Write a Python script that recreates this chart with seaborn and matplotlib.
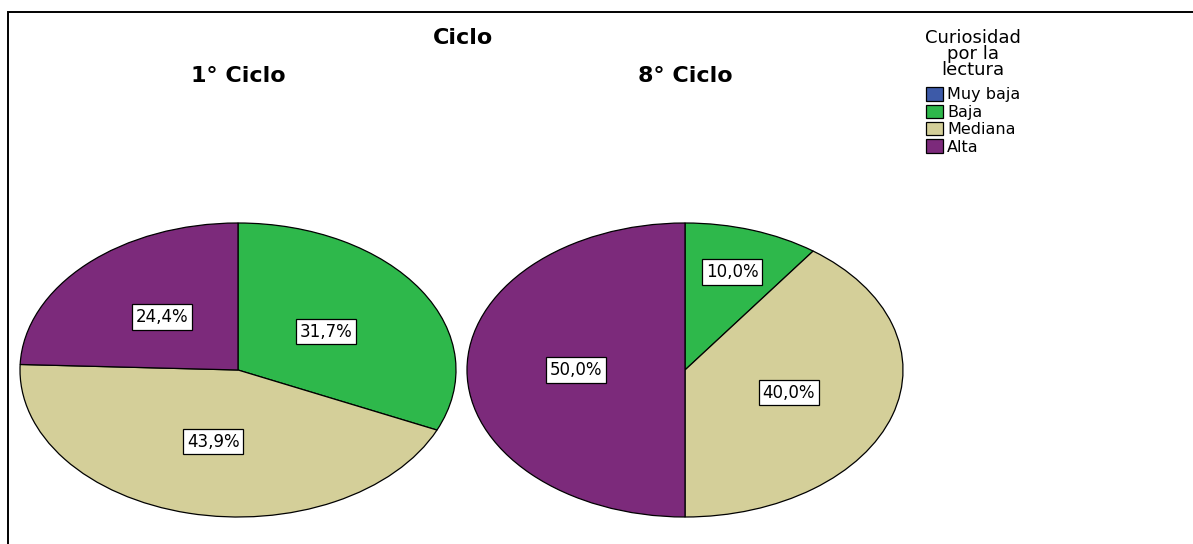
import matplotlib

matplotlib.use("Agg")
import matplotlib.pyplot as plt
from matplotlib.patches import Patch, Rectangle
import numpy as np
import seaborn as sns

# data
categories = ["Muy baja", "Baja", "Mediana", "Alta"]
colors = ["#3D5AA8", "#2EB84B", "#D4CF99", "#7C2A7B"]
ciclo_1 = [0.0, 31.7, 43.9, 24.4]
ciclo_8 = [0.0, 10.0, 40.0, 50.0]
panel_titles = ["1° Ciclo", "8° Ciclo"]
# distance of each percentage box from the centre (fraction of radius)
label_dist_1 = [0.5, 0.48, 0.5, 0.5]
label_dist_8 = [0.5, 0.7, 0.5, 0.5]

W, H = 1193, 544


def fmt(v):
    return f"{v:.1f}".replace(".", ",") + "%"


def draw_pie(ax, values, dists):
    vals = [v for v in values if v > 0]
    cols = [c for v, c in zip(values, colors) if v > 0]
    ds = [d for v, d in zip(values, dists) if v > 0]
    wedges, _ = ax.pie(
        vals,
        colors=cols,
        startangle=90,
        counterclock=False,
        wedgeprops=dict(edgecolor="black", linewidth=0.9),
        normalize=True,
    )
    for w, v, d in zip(wedges, vals, ds):
        ang = np.deg2rad((w.theta1 + w.theta2) / 2)
        ax.text(
            d * np.cos(ang),
            d * np.sin(ang),
            fmt(v),
            ha="center",
            va="center",
            fontsize=12,
            color="black",
            bbox=dict(boxstyle="square,pad=0.22", fc="white", ec="black", lw=0.9),
        )
    ax.set_aspect("auto")
    ax.set_xlim(-1, 1)
    ax.set_ylim(-1, 1)
    ax.axis("off")


def main():
    sns.set_theme(style="white")
    plt.rcParams["font.family"] = ["DejaVu Sans"]
    plt.rcParams["text.color"] = "black"

    fig = plt.figure(figsize=(W / 100, H / 100), dpi=100)

    # pie axes placed on the ellipse bounding boxes (pixels)
    ax1 = fig.add_axes([20 / W, (H - 517) / H, 436 / W, 294 / H])
    ax2 = fig.add_axes([467 / W, (H - 517) / H, 436 / W, 294 / H])
    draw_pie(ax1, ciclo_1, label_dist_1)
    draw_pie(ax2, ciclo_8, label_dist_8)

    fig.text(463 / W, 1 - 38 / H, "Ciclo", ha="center", va="center",
             fontsize=16, fontweight="bold")
    for cx, t in zip([238, 685], panel_titles):
        fig.text(cx / W, 1 - 76 / H, t, ha="center", va="center",
                 fontsize=16, fontweight="bold")

    handles = [Patch(facecolor=c, edgecolor="black", linewidth=0.9) for c in colors]
    leg = fig.legend(
        handles,
        categories,
        title="Curiosidad\npor la\nlectura",
        loc="upper left",
        bbox_to_anchor=(914 / W, 1 - 18 / H),
        frameon=False,
        fontsize=11.5,
        title_fontsize=13,
        handlelength=1.1,
        handleheight=0.9,
        handletextpad=0.25,
        labelspacing=0.14,
        borderpad=0.2,
    )
    leg.get_title().set_multialignment("center")
    leg.get_title().set_linespacing(0.85)
    leg._legend_box.align = "center"
    leg._legend_box.sep = 6

    # outer frame (runs off the right and bottom edges like the screenshot)
    fig.add_artist(Rectangle((8 / W, -0.1), 1.2, 1.1 - 12 / H,
                             transform=fig.transFigure, fill=False,
                             edgecolor="black", linewidth=1.4))

    fig.savefig("out.png", dpi=100)


if __name__ == "__main__":
    main()
